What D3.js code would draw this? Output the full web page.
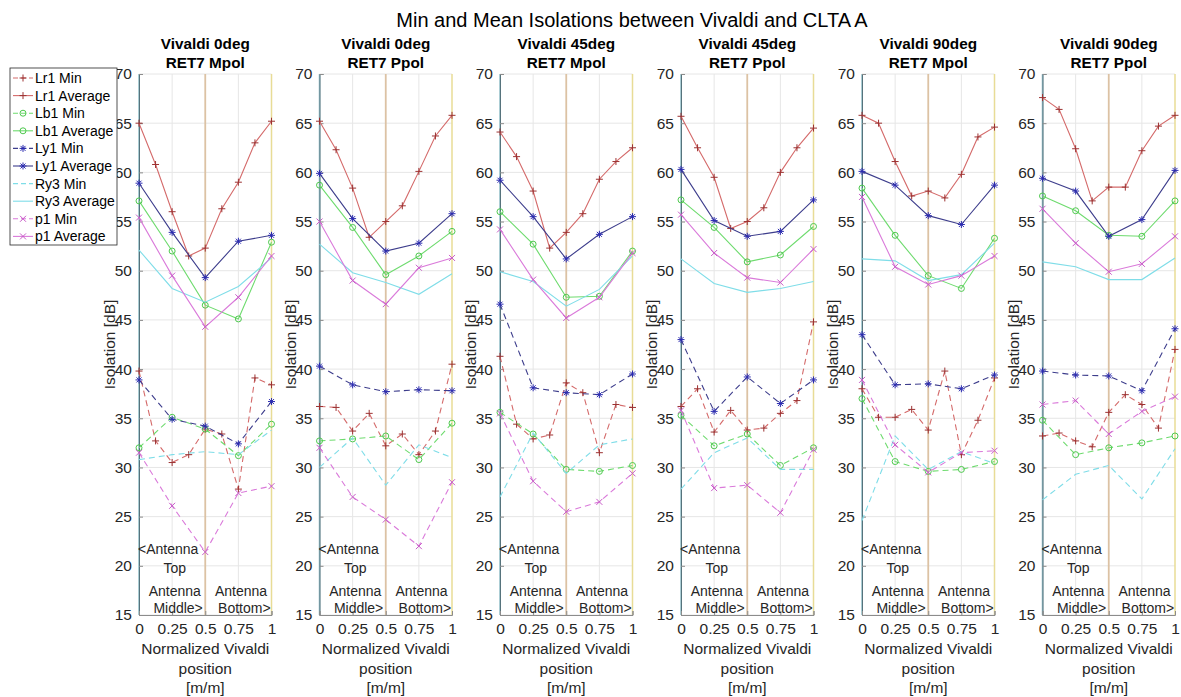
<!DOCTYPE html>
<html>
<head>
<meta charset="utf-8">
<script src="https://cdn.jsdelivr.net/npm/d3@7"></script>
<style>
  body { margin: 0; background: #fff; }
  svg { font-family: "Liberation Sans", Arial, sans-serif; }
</style>
</head>
<body>
<div id="chart"></div>
<script>
const WIDTH = 1181, HEIGHT = 697;

// panel titles (two lines each)
const panelTitles = [
    ["Vivaldi 0deg", "RET7 Mpol"],
    ["Vivaldi 0deg", "RET7 Ppol"],
    ["Vivaldi 45deg", "RET7 Mpol"],
    ["Vivaldi 45deg", "RET7 Ppol"],
    ["Vivaldi 90deg", "RET7 Mpol"],
    ["Vivaldi 90deg", "RET7 Ppol"]
];

// x positions: Lr1 sampled on 9 points, the rest on 5
const xFine = [0, 0.125, 0.25, 0.375, 0.5, 0.625, 0.75, 0.875, 1];
const xCoarse = [0, 0.25, 0.5, 0.75, 1];
const xTicks = [0, 0.25, 0.5, 0.75, 1];
const yTicks = [15, 20, 25, 30, 35, 40, 45, 50, 55, 60, 65, 70];

// one row per panel
const lr1Min = [
    [39.8, 32.7, 30.5, 31.3, 33.9, 33.4, 27.8, 39.1, 38.4],
    [36.2, 36.1, 33.7, 35.5, 32.2, 33.4, 31.3, 33.7, 40.5],
    [41.3, 34.4, 32.9, 33.3, 38.6, 37.6, 31.5, 36.4, 36.1],
    [36.2, 38.0, 33.6, 35.8, 33.8, 34.0, 35.5, 36.8, 44.8],
    [38.0, 35.1, 35.1, 35.9, 33.8, 39.8, 31.3, 34.8, 39.1],
    [33.2, 33.5, 32.7, 32.1, 35.6, 37.4, 36.4, 34.0, 42.0]
];
const lr1Avg = [
    [65.0, 60.8, 56.0, 51.5, 52.3, 56.3, 59.0, 63.0, 65.2],
    [65.2, 62.3, 58.4, 53.4, 55.0, 56.6, 60.1, 63.7, 65.8],
    [64.1, 61.6, 58.1, 52.3, 53.9, 55.8, 59.3, 61.1, 62.5],
    [65.7, 62.5, 59.5, 54.3, 55.0, 56.4, 60.0, 62.5, 64.5],
    [65.8, 65.0, 61.1, 57.6, 58.1, 57.4, 59.8, 63.6, 64.6],
    [67.6, 66.4, 62.4, 57.1, 58.5, 58.5, 62.2, 64.7, 65.8]
];
const lb1Min = [
    [32.0, 35.1, 33.9, 31.2, 34.4],
    [32.7, 32.9, 33.2, 30.8, 34.5],
    [35.6, 33.4, 29.8, 29.6, 30.2],
    [35.3, 32.2, 33.4, 30.2, 32.0],
    [37.0, 30.6, 29.6, 29.8, 30.6],
    [34.8, 31.3, 32.0, 32.5, 33.2]
];
const lb1Avg = [
    [57.1, 52.0, 46.5, 45.1, 52.9],
    [58.7, 54.4, 49.6, 51.5, 54.0],
    [56.0, 52.7, 47.3, 47.4, 52.0],
    [57.2, 54.4, 50.9, 51.6, 54.5],
    [58.4, 53.6, 49.5, 48.2, 53.3],
    [57.6, 56.1, 53.6, 53.5, 57.1]
];
const ly1Min = [
    [38.9, 34.9, 34.2, 32.4, 36.7],
    [40.3, 38.4, 37.7, 37.9, 37.8],
    [46.6, 38.1, 37.6, 37.4, 39.5],
    [43.0, 35.7, 39.2, 36.5, 38.9],
    [43.5, 38.4, 38.5, 38.0, 39.4],
    [39.8, 39.4, 39.3, 37.8, 44.1]
];
const ly1Avg = [
    [58.9, 53.9, 49.3, 53.0, 53.6],
    [59.9, 55.3, 52.0, 52.8, 55.8],
    [59.2, 55.5, 51.2, 53.7, 55.5],
    [60.3, 55.1, 53.5, 54.0, 57.2],
    [60.1, 58.7, 55.6, 54.7, 58.7],
    [59.4, 58.1, 53.5, 55.2, 60.2]
];
const ry3Min = [
    [30.8, 31.3, 31.6, 31.3, 33.8],
    [30.0, 33.0, 28.2, 32.3, 31.0],
    [27.0, 33.5, 29.4, 32.3, 32.9],
    [27.8, 31.5, 33.0, 29.8, 29.8],
    [24.6, 33.2, 29.8, 31.6, 30.4],
    [26.7, 29.3, 30.2, 26.8, 31.9]
];
const ry3Avg = [
    [52.1, 48.2, 46.8, 48.4, 51.3],
    [52.7, 49.8, 48.8, 47.6, 49.7],
    [49.9, 48.9, 46.4, 48.1, 51.5],
    [51.2, 48.7, 47.8, 48.2, 48.9],
    [51.2, 51.0, 49.0, 49.6, 52.8],
    [50.9, 50.4, 49.1, 49.1, 51.3]
];
const p1Min = [
    [31.5, 26.1, 21.4, 27.4, 28.1],
    [32.0, 27.0, 24.7, 22.0, 28.5],
    [35.5, 28.6, 25.5, 26.5, 29.4],
    [35.8, 27.9, 28.2, 25.4, 31.8],
    [38.9, 32.3, 29.5, 31.5, 31.7],
    [36.4, 36.8, 33.4, 35.7, 37.2]
];
const p1Avg = [
    [55.4, 49.5, 44.3, 47.3, 51.5],
    [55.0, 49.0, 46.6, 50.3, 51.3],
    [54.2, 49.1, 45.2, 47.3, 51.8],
    [55.7, 51.8, 49.3, 48.8, 52.2],
    [57.5, 50.4, 48.6, 49.5, 51.5],
    [56.3, 52.8, 49.9, 50.7, 53.5]
];

// series list (legend order)
const series = [
    { name: "Lr1 Min", data: lr1Min, x: xFine, color: "#d46a6a", mcol: "#9c3232", marker: "plus", dash: true },
    { name: "Lr1 Average", data: lr1Avg, x: xFine, color: "#d46a6a", mcol: "#9c3232", marker: "plus", dash: false },
    { name: "Lb1 Min", data: lb1Min, x: xCoarse, color: "#6edb6e", mcol: "#4ec94e", marker: "circle", dash: true },
    { name: "Lb1 Average", data: lb1Avg, x: xCoarse, color: "#6edb6e", mcol: "#4ec94e", marker: "circle", dash: false },
    { name: "Ly1 Min", data: ly1Min, x: xCoarse, color: "#3d3d8c", mcol: "#2b2bb0", marker: "star", dash: true },
    { name: "Ly1 Average", data: ly1Avg, x: xCoarse, color: "#3d3d8c", mcol: "#2b2bb0", marker: "star", dash: false },
    { name: "Ry3 Min", data: ry3Min, x: xCoarse, color: "#7fdde8", mcol: null, marker: null, dash: true },
    { name: "Ry3 Average", data: ry3Avg, x: xCoarse, color: "#7fdde8", mcol: null, marker: null, dash: false },
    { name: "p1 Min", data: p1Min, x: xCoarse, color: "#da7ada", mcol: "#c85ac8", marker: "cross", dash: true },
    { name: "p1 Average", data: p1Avg, x: xCoarse, color: "#da7ada", mcol: "#c85ac8", marker: "cross", dash: false }
];

const markerPath = {
    plus: "M-3.5,0H3.5M0,-3.5V3.5",
    cross: "M-3,-3L3,3M-3,3L3,-3",
    star: "M-3.5,0H3.5M0,-3.5V3.5M-2.5,-2.5L2.5,2.5M-2.5,2.5L2.5,-2.5"
};

const svg = d3.select("#chart").append("svg")
    .attr("width", WIDTH)
    .attr("height", HEIGHT);

// main title
svg.append("text")
    .attr("x", 632).attr("y", 27)
    .attr("text-anchor", "middle")
    .style("font-size", "20px")
    .style("fill", "#000")
    .text("Min and Mean Isolations between Vivaldi and CLTA A");

const panelLeft = [139, 319.5, 500, 681, 862, 1042.5];
const panelW = 132.5;
const y = d3.scaleLinear().domain([15, 70]).range([615, 74]);

function drawMarker(g, type, cx, cy, col) {
    if (!type) return;
    if (type === "circle") {
        g.append("circle").attr("cx", cx).attr("cy", cy).attr("r", 3)
            .style("fill", "none").style("stroke", col).style("stroke-width", 1);
    } else {
        g.append("path").attr("d", markerPath[type])
            .attr("transform", "translate(" + cx + "," + cy + ")")
            .style("fill", "none").style("stroke", col).style("stroke-width", 1);
    }
}

panelTitles.forEach((title, p) => {
    const x = d3.scaleLinear().domain([0, 1]).range([panelLeft[p], panelLeft[p] + panelW]);
    const g = svg.append("g");

    // grid
    g.selectAll(".hgrid").data(yTicks).enter().append("line")
        .attr("x1", x(0)).attr("x2", x(1))
        .attr("y1", d => y(d)).attr("y2", d => y(d))
        .style("stroke", "#e6e6e6").style("stroke-width", 1);
    g.selectAll(".vgrid").data([0.25, 0.75]).enter().append("line")
        .attr("x1", d => x(d)).attr("x2", d => x(d))
        .attr("y1", y(15)).attr("y2", y(70))
        .style("stroke", "#e6e6e6").style("stroke-width", 1);

    // antenna section markers
    const sections = [[0, "#8fbcc6", 1.5], [0.5, "#dcc2a4", 1.8], [1, "#e8dc96", 1.5]];
    g.selectAll(".sect").data(sections).enter().append("line")
        .attr("x1", d => x(d[0])).attr("x2", d => x(d[0]))
        .attr("y1", y(15)).attr("y2", y(70))
        .style("stroke", d => d[1]).style("stroke-width", d => d[2]);

    // axes
    const yAxis = d3.axisLeft(y).tickValues(yTicks).tickSize(-4).tickPadding(7);
    const ya = g.append("g").attr("transform", "translate(" + x(0) + ",0)").call(yAxis);
    const xAxis = d3.axisBottom(x).tickValues(xTicks).tickSize(-4).tickPadding(8)
        .tickFormat(d => String(d));
    const xa = g.append("g").attr("transform", "translate(0," + y(15) + ")").call(xAxis);
    [ya, xa].forEach(a => {
        a.select(".domain").style("stroke", "#8c8c8c");
        a.selectAll(".tick line").style("stroke", "#8c8c8c");
        a.selectAll(".tick text").style("font-size", "15.5px").style("fill", "#262626")
            .style("font-family", "'Liberation Sans', Arial, sans-serif");
    });
    ya.select(".domain").style("stroke", "#56737c");

    // series
    series.forEach(s => {
        const pts = s.data[p].map((v, i) => [x(s.x[i]), y(v)]);
        g.append("path")
            .attr("d", d3.line()(pts))
            .style("fill", "none")
            .style("stroke", s.color)
            .style("stroke-width", 1.1)
            .style("stroke-dasharray", s.dash ? "6,4" : null);
        pts.forEach(pt => drawMarker(g, s.marker, pt[0], pt[1], s.mcol));
    });

    // antenna labels
    const lab = g.append("g").style("font-size", "14px").style("fill", "#262626");
    lab.append("text").attr("x", x(0) - 1).attr("y", 554).text("<Antenna");
    lab.append("text").attr("x", x(0.27)).attr("y", 573).attr("text-anchor", "middle").text("Top");
    lab.append("text").attr("x", x(0.27)).attr("y", 596).attr("text-anchor", "middle").text("Antenna");
    lab.append("text").attr("x", x(0.295)).attr("y", 613).attr("text-anchor", "middle").text("Middle>");
    lab.append("text").attr("x", x(0.77)).attr("y", 596).attr("text-anchor", "middle").text("Antenna");
    lab.append("text").attr("x", x(0.795)).attr("y", 613).attr("text-anchor", "middle").text("Bottom>");

    // panel title
    g.append("text").attr("x", x(0.5)).attr("y", 49)
        .attr("text-anchor", "middle").style("font-size", "15.3px").style("font-weight", "bold")
        .text(title[0]);
    g.append("text").attr("x", x(0.5)).attr("y", 68)
        .attr("text-anchor", "middle").style("font-size", "15.3px").style("font-weight", "bold")
        .text(title[1]);

    // axis labels
    g.append("text")
        .attr("transform", "translate(" + (x(0) - 24) + "," + y(42.5) + ") rotate(-90)")
        .attr("text-anchor", "middle").style("font-size", "15.5px").style("fill", "#262626")
        .text("Isolation [dB]");
    ["Normalized Vivaldi", "position", "[m/m]"].forEach((t, i) => {
        g.append("text").attr("x", x(0.5)).attr("y", 654 + i * 19.5)
            .attr("text-anchor", "middle").style("font-size", "15.5px").style("fill", "#262626")
            .text(t);
    });
});

// legend
const legend = svg.append("g").attr("transform", "translate(10,68)");
legend.append("rect").attr("width", 107).attr("height", 177)
    .style("fill", "#fff").style("stroke", "#262626").style("stroke-width", 0.8);
series.forEach((s, i) => {
    const cy = 10 + i * 17.6;
    legend.append("line").attr("x1", 3).attr("x2", 23).attr("y1", cy).attr("y2", cy)
        .style("stroke", s.color).style("stroke-width", 1.1)
        .style("stroke-dasharray", s.dash ? "5,3" : null);
    drawMarker(legend, s.marker, 13, cy, s.mcol);
    legend.append("text").attr("x", 25).attr("y", cy + 5)
        .style("font-size", "14px").style("fill", "#000").text(s.name);
});
</script>
</body>
</html>
